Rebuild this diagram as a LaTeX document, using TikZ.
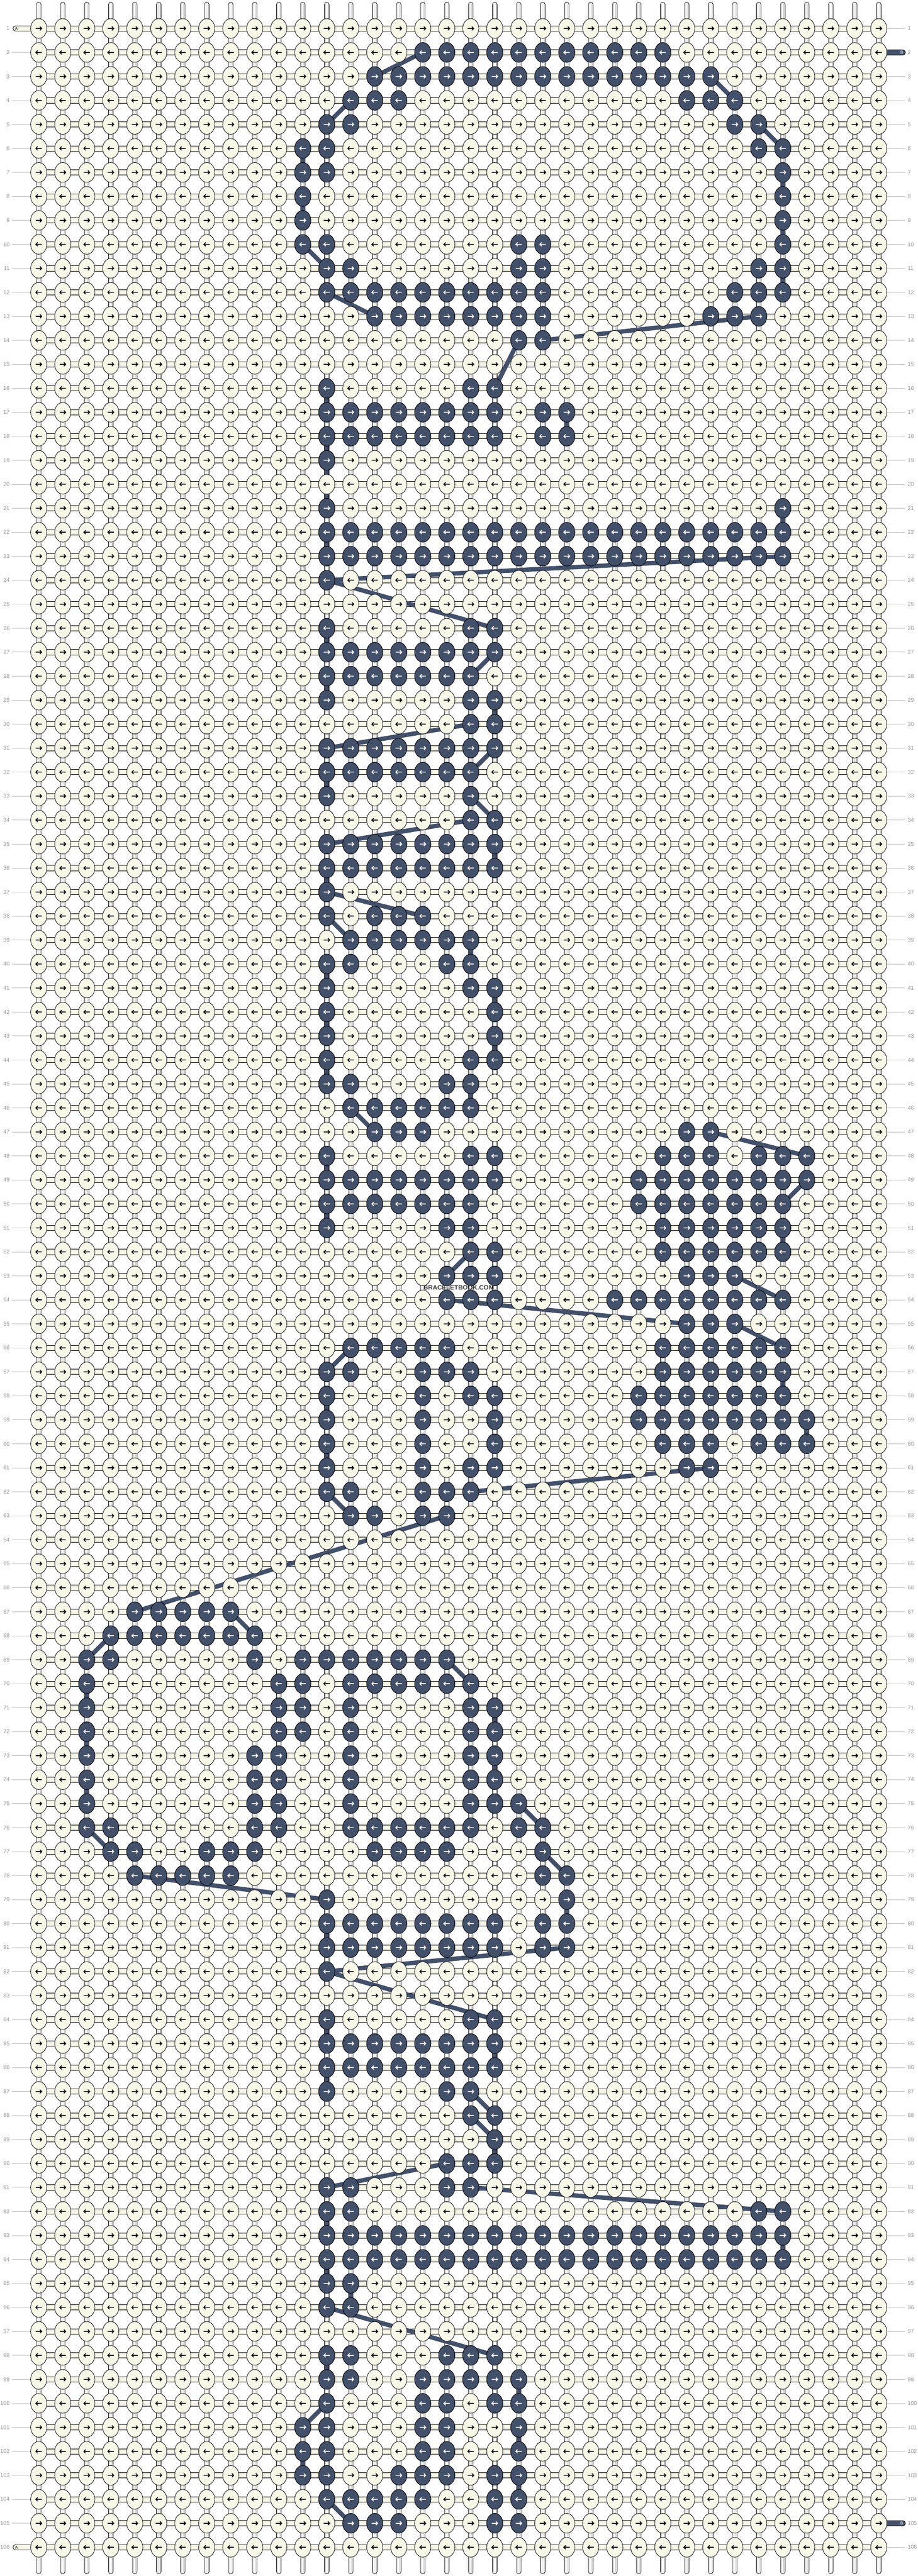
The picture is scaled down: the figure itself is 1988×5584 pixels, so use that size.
\documentclass[tikz,border=0pt]{standalone}
\usepackage{fontspec}
\setmainfont{Liberation Sans}
\definecolor{cream}{RGB}{248,248,233}
\definecolor{slate}{RGB}{67,80,106}
\definecolor{lblgray}{RGB}{150,150,150}
\definecolor{lnkgray}{RGB}{190,190,190}
\definecolor{wmgray}{RGB}{60,60,60}
\newcommand\adddk[2]{\ifcsname dkl@#1\endcsname\expandafter\xdef\csname dkl@#1\endcsname{\csname dkl@#1\endcsname,#2}\else\expandafter\xdef\csname dkl@#1\endcsname{#2}\fi}
\newcommand\setdark[2]{\foreach \cc in {#2}{\adddk{#1}{\cc}}}
\newcommand\setdarkr[3]{\foreach \cc in {#2,...,#3}{\adddk{#1}{\cc}}}
\begin{document}
\begin{tikzpicture}[x=1pt,y=-1pt,
  knotA/.style={draw=black,line width=0.9pt,fill=cream},
  knotB/.style={draw=black,line width=0.9pt,fill=slate},
  arr/.style={line width=1.8pt,line cap=butt,line join=miter},
  hconn/.style={draw=black,line width=0.9pt,fill=cream},
  vtube/.style={draw=black,line width=0.9pt,fill=white,rounded corners=4.8pt},
  tubeline/.style={draw=lnkgray,line width=0.8pt},
  band/.style={draw=slate,line width=9.5pt,line cap=round},
  lbl/.style={text=lblgray,font=\fontsize{12}{12}\selectfont,inner sep=0pt},
  lblline/.style={draw=lnkgray,line width=0.9pt},
  stubletter/.style={font=\fontsize{9}{9}\selectfont,inner sep=0pt}]
\useasboundingbox[fill=white] (0,0) rectangle (1988,5584);
% ---------- dark (B) knots per row ----------
\setdarkr{2}{17}{27}
\setdarkr{3}{15}{29}
\setdark{4}{14,15,16,28,29,30}
\setdark{5}{13,14,30,31}
\setdark{6}{12,13,31,32}
\setdark{7}{12,13,32}
\setdark{8}{12,32}
\setdark{9}{12,32}
\setdark{10}{12,13,21,22,32}
\setdark{11}{13,14,21,22,31,32}
\setdarkr{12}{13}{22}\setdark{12}{30,31,32}
\setdarkr{13}{15}{22}\setdark{13}{29,30,31}
\setdark{14}{21,22}
\setdark{16}{13,19,20}
\setdarkr{17}{13}{20}\setdark{17}{22,23}
\setdarkr{18}{13}{20}\setdark{18}{22,23}
\setdark{19}{13}
\setdark{21}{13,32}
\setdarkr{22}{13}{32}
\setdarkr{23}{13}{32}
\setdark{24}{13}
\setdark{26}{13,19,20}
\setdarkr{27}{13}{20}
\setdarkr{28}{13}{19}
\setdark{29}{13,19,20}
\setdark{30}{19,20}
\setdarkr{31}{13}{20}
\setdarkr{32}{13}{19}
\setdark{33}{13,19}
\setdark{34}{19,20}
\setdarkr{35}{13}{20}
\setdarkr{36}{13}{20}
\setdark{37}{13}
\setdark{38}{13,15,16,17}
\setdarkr{39}{14}{19}
\setdark{40}{13,14,18,19}
\setdark{41}{13,19,20}
\setdark{42}{13,20}
\setdark{43}{13,20}
\setdark{44}{13,19,20}
\setdark{45}{13,14,18,19}
\setdarkr{46}{14}{19}
\setdark{47}{15,16,17,28,29}
\setdark{48}{13,19,20,27,28,29,31,32,33}
\setdarkr{49}{13}{20}\setdarkr{49}{26}{33}
\setdarkr{50}{13}{19}\setdarkr{50}{26}{32}
\setdark{51}{13,18,19}\setdarkr{51}{27}{32}
\setdark{52}{19,20}\setdarkr{52}{27}{32}
\setdark{53}{18,19,20,28,29,30}
\setdark{54}{18,19,20}\setdarkr{54}{25}{32}
\setdark{55}{28,29,30}
\setdarkr{56}{14}{18}\setdarkr{56}{27}{32}
\setdark{57}{13,14,17,18,19}\setdarkr{57}{27}{32}
\setdark{58}{13,17,19,20}\setdarkr{58}{26}{32}
\setdark{59}{13,17,20}\setdarkr{59}{26}{33}
\setdark{60}{13,17,20,27,28,29,31,32,33}
\setdark{61}{13,17,19,20,28,29}
\setdark{62}{13,14,17,18,19}
\setdark{63}{14,15,17,18}
\setdarkr{67}{5}{9}
\setdarkr{68}{4}{10}
\setdark{69}{3,4,10}\setdarkr{69}{12}{18}
\setdark{70}{3,11,12}\setdarkr{70}{14}{19}
\setdark{71}{3,11,12,14,19,20}
\setdark{72}{3,11,12,14,19,20}
\setdark{73}{3,10,11,14,19,20}
\setdark{74}{3,10,11,14,19,20}
\setdark{75}{3,10,11,14,19,20,21}
\setdark{76}{3,4,10,11,21,22}\setdarkr{76}{14}{19}
\setdark{77}{4,5,8,9,10,15,16,17,18,22}
\setdark{78}{5,6,7,8,9,22,23}
\setdark{79}{13,23}
\setdarkr{80}{13}{20}\setdark{80}{22,23}
\setdarkr{81}{13}{20}\setdark{81}{22,23}
\setdark{82}{13}
\setdark{84}{13,19,20}
\setdarkr{85}{13}{20}
\setdarkr{86}{13}{20}
\setdark{87}{13,18,19}
\setdark{88}{19,20}
\setdark{89}{20}
\setdark{90}{18,19,20}
\setdark{91}{13,14,18,19}
\setdark{92}{13,14,31,32}
\setdarkr{93}{13}{32}
\setdarkr{94}{13}{32}
\setdark{95}{13,14}
\setdark{96}{13,14}
\setdark{98}{13,14,18,19,20}
\setdark{99}{13,14,17,18,19,20,21}
\setdark{100}{13,17,18,20,21}
\setdark{101}{12,13,17,18,21}
\setdark{102}{12,13,17,18,21}
\setdark{103}{12,13,16,17,18,20,21}
\setdark{104}{13,14,15,16,17,20,21}
\setdark{105}{14,15,16,20,21}
% ---------- vertical threads ----------
\foreach \cc in {1,...,36} {
  \pgfmathtruncatemacro\xx{84+52*(\cc-1)}
  \coordinate (top-\cc) at (\xx,5);
  \coordinate (bot-\cc) at (\xx,5579);
  \draw[vtube] ([xshift=-5pt]top-\cc) rectangle ([xshift=5pt]bot-\cc);
  \draw[tubeline] ([xshift=-2.4pt,yshift=-4pt]top-\cc) -- ([xshift=-2.4pt,yshift=4pt]bot-\cc);
  \draw[tubeline] ([xshift=2.4pt,yshift=-4pt]top-\cc) -- ([xshift=2.4pt,yshift=4pt]bot-\cc);
}
% ---------- horizontal connectors, row labels ----------
\foreach \rr in {1,...,106} {
  \pgfmathsetmacro\yy{61.7+52*(\rr-1)}
  \draw[hconn] (84,\yy-5.65) rectangle (1904,\yy+5.65);
  \node[lbl,anchor=east] (ll-\rr) at (21,\yy) {\rr};
  \node[lbl,anchor=west] (rl-\rr) at (1966.5,\yy) {\rr};
  \ifnum\rr=1\relax\else\ifnum\rr=106\relax\else
    \draw[lblline] (26,\yy) -- (66.5,\yy);
  \fi\fi
  \ifnum\rr=2\relax\else\ifnum\rr=105\relax\else
    \draw[lblline] (1921.5,\yy) -- (1961.5,\yy);
  \fi\fi
}
% ---------- A and B thread ends ----------
\foreach \rr in {1,106} {
  \pgfmathsetmacro\yy{61.7+52*(\rr-1)}
  \draw[hconn,rounded corners=5.5pt] (28.3,\yy-5.65) rectangle (80,\yy+5.65);
  \node[stubletter] (a-\rr) at (35.5,\yy) {A};
}
\foreach \rr in {2,105} {
  \pgfmathsetmacro\yy{61.7+52*(\rr-1)}
  \draw[hconn,fill=slate,rounded corners=5.5pt] (1890,\yy-5.65) rectangle (1961.7,\yy+5.65);
  \node[stubletter,text=white] (b-\rr) at (1954,\yy) {B};
}
% ---------- path of thread B between rows ----------
\foreach \ra/\ca/\rb/\cb in {2/17/3/15, 3/29/4/30, 4/14/5/13, 5/31/6/32, 6/12/7/12, 7/32/8/32, 8/12/9/12, 9/32/10/32, 10/12/11/13, 11/32/12/32, 12/13/13/15, 13/31/14/22, 14/21/16/20, 16/13/17/13, 17/23/18/23, 18/13/19/13, 19/13/21/13, 21/32/22/32, 22/13/23/13, 23/32/24/13, 24/13/26/20, 26/13/27/13, 27/20/28/19, 28/13/29/13, 29/20/30/20, 30/19/31/13, 31/20/32/19, 32/13/33/13, 33/19/34/20, 34/19/35/13, 35/20/36/20, 36/13/37/13, 37/13/38/17, 38/13/39/14, 39/19/40/19, 40/13/41/13, 41/20/42/20, 42/13/43/13, 43/20/44/20, 44/13/45/13, 45/19/46/19, 46/14/47/15, 47/29/48/33, 48/13/49/13, 49/33/50/32, 50/13/51/13, 51/32/52/32, 52/19/53/18, 53/30/54/32, 54/18/55/28, 55/30/56/32, 56/14/57/13, 57/32/58/32, 58/13/59/13, 59/33/60/33, 60/13/61/13, 61/29/62/19, 62/13/63/14, 63/18/67/5, 67/9/68/10, 68/4/69/3, 69/18/70/19, 70/3/71/3, 71/20/72/20, 72/3/73/3, 73/20/74/20, 74/3/75/3, 75/21/76/22, 76/3/77/4, 77/22/78/23, 78/5/79/13, 79/23/80/23, 80/13/81/13, 81/23/82/13, 82/13/84/20, 84/13/85/13, 85/20/86/20, 86/13/87/13, 87/19/88/20, 88/19/89/20, 89/20/90/20, 90/18/91/13, 91/19/92/32, 92/13/93/13, 93/32/94/32, 94/13/95/13, 95/14/96/14, 96/13/98/20, 98/13/99/13, 99/21/100/21, 100/13/101/12, 101/21/102/21, 102/12/103/12, 103/21/104/21, 104/13/105/14} {
  \draw[band] (84+52*\ca-52,61.7+52*\ra-52) -- (84+52*\cb-52,61.7+52*\rb-52);
}
% ---------- knots ----------
\foreach \rr in {1,...,106} {
  \pgfmathsetmacro\yy{61.7+52*(\rr-1)}
  \filldraw[knotA] \foreach \cc in {1,...,36} {(84+52*\cc-52,\yy) ellipse [x radius=17.5pt, y radius=21.35pt]};
  \ifodd\rr\relax
    \draw[arr] \foreach \cc in {1,...,36} {(84+52*\cc-52-6.6,\yy) -- +(12.6,0) (84+52*\cc-52+2.4,\yy-4) -- +(4,4) -- +(0,8)};
  \else
    \draw[arr] \foreach \cc in {1,...,36} {(84+52*\cc-52+6.6,\yy) -- +(-12.6,0) (84+52*\cc-52-2.4,\yy-4) -- +(-4,4) -- +(0,8)};
  \fi
  \ifcsname dkl@\rr\endcsname
    \expandafter\let\expandafter\dlist\csname dkl@\rr\endcsname
    \filldraw[knotB] \foreach \cc in \dlist {(84+52*\cc-52,\yy) ellipse [x radius=17.5pt, y radius=21.35pt]};
    \ifodd\rr\relax
      \draw[arr,white] \foreach \cc in \dlist {(84+52*\cc-52-6.6,\yy) -- +(12.6,0) (84+52*\cc-52+2.4,\yy-4) -- +(4,4) -- +(0,8)};
    \else
      \draw[arr,white] \foreach \cc in \dlist {(84+52*\cc-52+6.6,\yy) -- +(-12.6,0) (84+52*\cc-52-2.4,\yy-4) -- +(-4,4) -- +(0,8)};
    \fi
  \fi
}
% ---------- watermark ----------
\node[text=wmgray,font=\bfseries\fontsize{13.8}{14}\selectfont,inner sep=0pt] (wm) at (994,2791) {BRACELETBOOK.COM};
\end{tikzpicture}
\end{document}
